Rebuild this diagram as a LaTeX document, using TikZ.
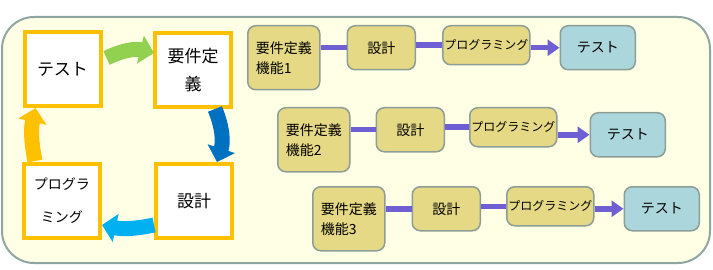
\documentclass[tikz,border=0pt]{standalone}
\usepackage{fontspec}
\setmainfont{Noto Sans CJK JP}
\usetikzlibrary{arrows.meta,positioning}
\definecolor{frame}{HTML}{8FA7A0}
\definecolor{cream}{HTML}{FFFFE6}
\definecolor{amber}{HTML}{FFC000}
\definecolor{leaf}{HTML}{92D050}
\definecolor{ocean}{HTML}{0070C0}
\definecolor{sky}{HTML}{00B0F0}
\definecolor{sand}{HTML}{E6D985}
\definecolor{aqua}{HTML}{ABD6DC}
\definecolor{slate}{HTML}{6E5FD2}
\definecolor{edge}{HTML}{8C9E96}

\begin{document}
\begin{tikzpicture}[x=1pt,y=-1pt,
  phase/.style={draw=amber,line width=4pt,fill=white,minimum width=76pt,minimum height=74pt,align=center,inner sep=2pt,font=\fontsize{17}{28}\selectfont},
  cycle/.style={line width=15pt,draw=#1,-{Triangle[length=14pt,width=28pt]}},
  fbox/.style={draw=edge,line width=1.5pt,rounded corners=8pt,fill=sand,minimum width=68pt,minimum height=44pt,font=\fontsize{14}{20}\selectfont},
  featbox/.style={fbox,anchor=north west,minimum width=72pt,minimum height=64pt,text width=56pt,align=left},
  progbox/.style={fbox,minimum width=87pt,minimum height=39pt,inner xsep=1.5pt,font=\fontsize{12}{14}\selectfont},
  testbox/.style={fbox,fill=aqua,minimum width=75pt},
  follow/.style={right=#1,anchor=north west},
  link/.style={line width=5.5pt,draw=slate},
  linkarrow/.style={link,-{Triangle[length=12pt,width=16pt]}}
]
\useasboundingbox (0,0) rectangle (713,270);
\draw[frame,fill=cream,line width=2pt,rounded corners=32pt] (2,17) rectangle (710,263);

\node[phase] (test) at (62.5,69) {テスト};
\node[phase] (req) at (193,70) {要件定\\義};
\node[phase] (des) at (194,201) {設計};
\node[phase,font=\fontsize{14}{33}\selectfont] (prog) at (62,201) {プログラ\\ミング};
\draw[cycle=leaf] ([xshift=4pt,yshift=11pt]test.east) to[bend left=20] ([xshift=1pt,yshift=17pt]req.west);
\draw[cycle=ocean] ([xshift=22pt]req.south) to[bend left=20] ([xshift=23pt]des.north);
\draw[cycle=sky] ([yshift=-24pt]des.west) to[bend left=12] ([yshift=-24pt]prog.east);
\draw[cycle=amber] ([xshift=-27pt,yshift=1pt]prog.north) to[bend left=12] ([xshift=-27pt]test.south);

\node[featbox] (f1) at (247,25) {要件定義\\機能1};
\node[fbox,follow=26pt of f1.north east] (d1) {設計};
\node[progbox,follow=26pt of d1.north east] (p1) {プログラミング};
\node[testbox,follow=29pt of p1.north east] (t1) {テスト};
\draw[link] (f1.east |- d1) -- (d1);
\draw[link] (d1.east |- p1) -- (p1);
\draw[linkarrow] (p1.east |- t1) -- (t1);

\node[featbox] (f2) at (277,107) {要件定義\\機能2};
\node[fbox,follow=25pt of f2.north east] (d2) {設計};
\node[progbox,follow=24pt of d2.north east] (p2) {プログラミング};
\node[testbox,follow=32pt of p2.north east,yshift=-5pt] (t2) {テスト};
\draw[link] (f2.east |- d2) -- (d2);
\draw[link] (d2.east |- p2) -- (p2);
\draw[linkarrow] (p2.east |- t2) -- (t2);

\node[featbox] (f3) at (312,186) {要件定義\\機能3};
\node[fbox,follow=26pt of f3.north east] (d3) {設計};
\node[progbox,follow=25pt of d3.north east] (p3) {プログラミング};
\node[testbox,follow=29pt of p3.north east] (t3) {テスト};
\draw[link] (f3.east |- d3) -- (d3);
\draw[link] (d3.east |- p3) -- (p3);
\draw[linkarrow] (p3.east |- t3) -- (t3);
\end{tikzpicture}
\end{document}
